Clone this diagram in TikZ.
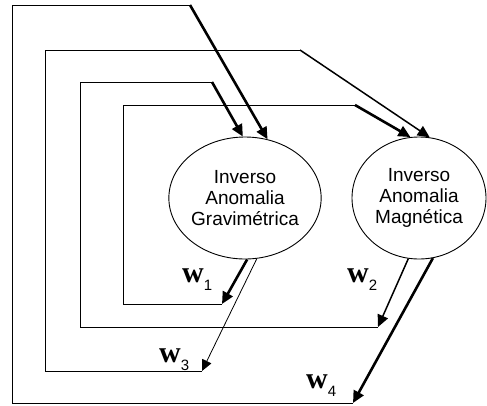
\documentclass[tikz,border=0pt]{standalone}
\usepackage{fontspec}
\setmainfont{Liberation Sans}
\newfontfamily\serifb{Liberation Serif}
\usetikzlibrary{shapes.geometric,arrows.meta}
\begin{document}
\begin{tikzpicture}[x=1pt,y=1pt,
  unit/.style={ellipse,draw,line width=0.9pt,minimum width=134pt,minimum height=122pt,inner sep=0pt,align=center,font=\fontsize{19}{21}\selectfont},
  wire/.style={line width=0.9pt},
  fat/.style={line width=2.6pt,-{Triangle[length=12pt,width=11pt]}},
  mid/.style={line width=1.5pt,-{Triangle[length=12pt,width=11pt]}},
  slim/.style={line width=0.8pt,-{Triangle[length=11pt,width=10pt]}},
  wlab/.style={anchor=base west,inner sep=0pt,font=\fontsize{30}{30}\selectfont}
]
\useasboundingbox (0,0) rectangle (487,-405);
\node[unit] (L) at (245,-198) {Inverso\\Anomalia\\Gravimétrica};
\node[unit] (R) at (419,-198) {Inverso\\Anomalia\\Magnética};
% w1 loop: L -> R
\coordinate (a1) at (222,-304);
\coordinate (b1) at (123,-304);
\coordinate (c1) at (123,-105);
\coordinate (d1) at (355,-105);
\draw[fat] (L.-88) -- (a1);
\draw[wire] (a1) -- (b1) -- (c1) -- (d1);
\draw[fat] (d1) -- (R.98);
% w2 loop: R -> L
\coordinate (a2) at (378,-327);
\coordinate (b2) at (80,-327);
\coordinate (c2) at (80,-82);
\coordinate (d2) at (212,-82);
\draw[mid] (R.-100) -- (a2);
\draw[wire] (a2) -- (b2) -- (c2) -- (d2);
\draw[fat] (d2) -- (L.92);
% w3 loop: L -> R
\coordinate (a3) at (202,-371);
\coordinate (b3) at (45,-371);
\coordinate (c3) at (45,-50);
\coordinate (d3) at (300,-50);
\draw[slim] (L.-79) -- (a3);
\draw[wire] (a3) -- (b3) -- (c3) -- (d3);
\draw[mid] (d3) -- (R.80);
% w4 loop: R -> L
\coordinate (a4) at (353,-403);
\coordinate (b4) at (12,-403);
\coordinate (c4) at (12,-5);
\coordinate (d4) at (190,-5);
\draw[fat] (R.-77) -- (a4);
\draw[wire] (a4) -- (b4) -- (c4) -- (d4);
\draw[fat] (d4) -- (L.69);
% labels
\node[wlab] (w1) at (182,-282) {{\serifb\bfseries w}\raisebox{-8pt}{\fontsize{15}{15}\selectfont 1}};
\node[wlab] (w2) at (347,-282) {{\serifb\bfseries w}\raisebox{-8pt}{\fontsize{15}{15}\selectfont 2}};
\node[wlab] (w3) at (159,-362) {{\serifb\bfseries w}\raisebox{-8pt}{\fontsize{15}{15}\selectfont 3}};
\node[wlab] (w4) at (306,-388) {{\serifb\bfseries w}\raisebox{-8pt}{\fontsize{15}{15}\selectfont 4}};
\end{tikzpicture}
\end{document}
